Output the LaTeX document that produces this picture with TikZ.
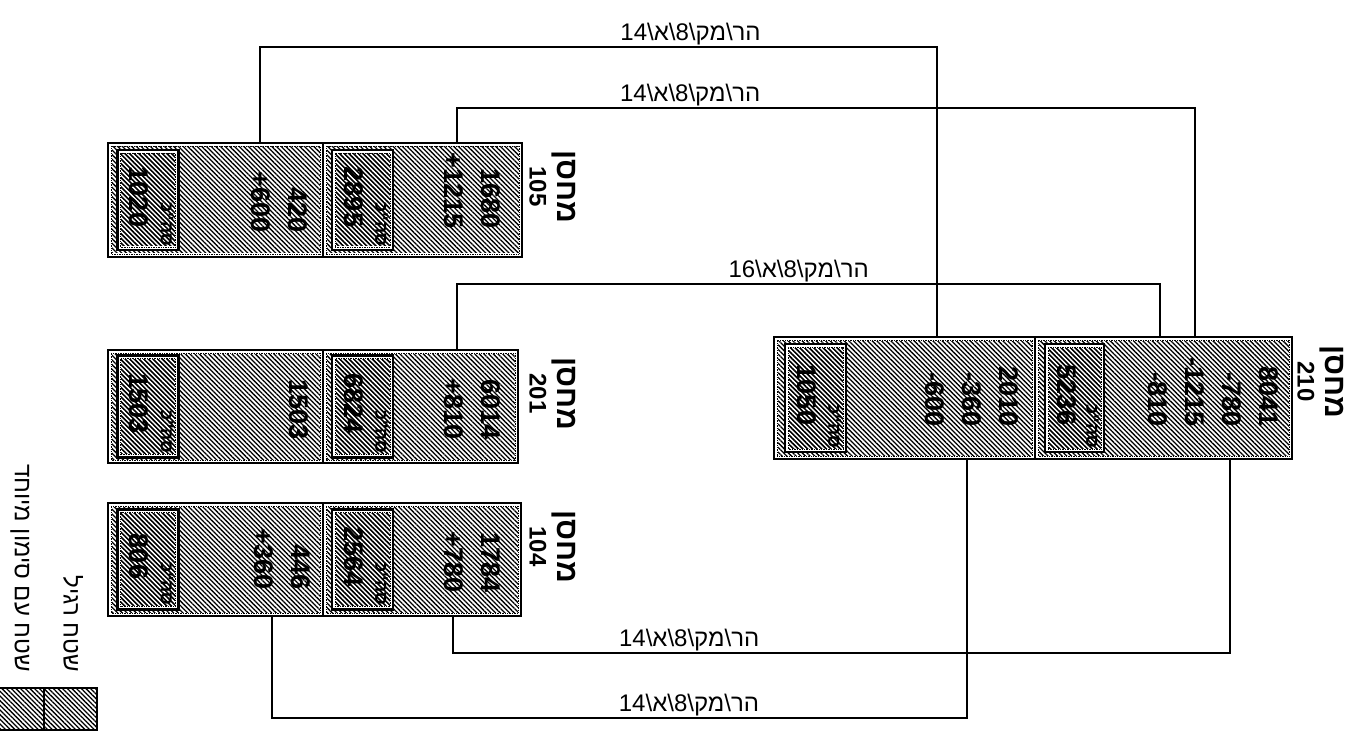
\documentclass[tikz,border=0pt]{standalone}
\usepackage{fontspec}
\setmainfont{Liberation Sans}
\newfontfamily\hebfont[Script=Hebrew]{Liberation Sans}
\TeXXeTstate=1
\usetikzlibrary{positioning,patterns.meta}
\newcommand{\heb}[1]{{\hebfont\beginR #1\endR}}
\newcommand{\dt}{\heb{הר\textbackslash מק\textbackslash 8\textbackslash א\textbackslash 14}}

\begin{document}
\begin{tikzpicture}[x=1pt, y=-1pt,
  hatch/.style={pattern={Lines[angle=-45,distance=3.3pt,line width=1.3pt]}},
  rim/.style={path picture={
    \draw[white, line width=7pt] (path picture bounding box.south west) rectangle (path picture bounding box.north east);
    \draw[densely dotted, line width=0.7pt] ([xshift=3pt,yshift=3pt]path picture bounding box.south west) rectangle ([xshift=-3pt,yshift=-3pt]path picture bounding box.north east);}},
  half/.style={draw, line width=2.6pt, outer sep=0pt, inner sep=0pt, minimum height=#1, hatch, rim},
  totbox/.style={draw, line width=2.2pt, outer sep=0pt, inner sep=0pt, minimum width=61pt, minimum height=#1, hatch, rim},
  legbox/.style={draw, line width=2pt, outer sep=0pt, inner sep=0pt, minimum height=42pt, hatch},
  nums/.style={rotate=-90, anchor=north east, align=right, inner sep=0pt, font=\bfseries\fontsize{27}{37}\selectfont},
  totnum/.style={rotate=-90, inner sep=0pt, font=\bfseries\fontsize{27}{37}\selectfont},
  totlbl/.style={rotate=-90, anchor=north east, inner sep=0pt, font=\bfseries\fontsize{18}{18}\selectfont},
  whlabel/.style={rotate=-90, anchor=north west, align=center, inner sep=0pt, font=\bfseries\fontsize{30}{28}\selectfont},
  wire/.style={line width=1.6pt},
  lbl/.style={above=1pt, inner sep=0pt, font=\fontsize{24}{24}\selectfont},
  legtxt/.style={rotate=-90, anchor=east, inner sep=0pt, font=\fontsize{24}{24}\selectfont}]
  \useasboundingbox (0,0) rectangle (1366,738);

  % warehouse 105
  \node[half=114pt, minimum width=215pt] (m105a) at (215.5,200) {};
  \node[half=114pt, minimum width=199pt, right=0pt of m105a] (m105b) {};
  \node[totbox=100pt, right=9.5pt of m105a.west] (t105a) {};
  \node[totbox=100pt, right=9pt of m105b.west] (t105b) {};
  \node[nums] (n105a) at ([xshift=-15pt,yshift=24pt]m105a.south east) {420\\+600};
  \node[nums] (n105b) at ([xshift=-21pt,yshift=28pt]m105b.south east) {1680\\+1215};
  \node[totnum] (s105a) at ([xshift=-9pt,yshift=3pt]t105a.center) {1020};
  \node[totnum] (s105b) at ([xshift=-9pt,yshift=3pt]t105b.center) {2895};
  \node[totlbl] (k105a) at ([xshift=-5pt,yshift=4pt]t105a.south east) {\heb{סה"כ}};
  \node[totlbl] (k105b) at ([xshift=-5pt,yshift=4pt]t105b.south east) {\heb{סה"כ}};
  \node[whlabel] (l105) at ([xshift=54pt,yshift=-7pt]m105b.north east) {\heb{מחסן}\\{\fontsize{24}{28}\selectfont 105}};

  % warehouse 201
  \node[half=113pt, minimum width=215pt] (m201a) at (215.5,406.5) {};
  \node[half=113pt, minimum width=195pt, right=0pt of m201a] (m201b) {};
  \node[totbox=102pt, right=9.5pt of m201a.west] (t201a) {};
  \node[totbox=102pt, right=9pt of m201b.west] (t201b) {};
  \node[nums] (n201a) at ([xshift=-14pt,yshift=23pt]m201a.south east) {1503};
  \node[nums] (n201b) at ([xshift=-17pt,yshift=23pt]m201b.south east) {6014\\+810};
  \node[totnum] (s201a) at ([xshift=-9pt,yshift=3pt]t201a.center) {1503};
  \node[totnum] (s201b) at ([xshift=-9pt,yshift=3pt]t201b.center) {6824};
  \node[totlbl] (k201a) at ([xshift=-5pt,yshift=4pt]t201a.south east) {\heb{סה"כ}};
  \node[totlbl] (k201b) at ([xshift=-5pt,yshift=4pt]t201b.south east) {\heb{סה"כ}};
  \node[whlabel] (l201) at ([xshift=58pt,yshift=-7pt]m201b.north east) {\heb{מחסן}\\{\fontsize{24}{28}\selectfont 201}};

  % warehouse 104
  \node[half=113pt, minimum width=215pt] (m104a) at (215.5,559.5) {};
  \node[half=113pt, minimum width=198pt, right=0pt of m104a] (m104b) {};
  \node[totbox=100pt, right=9.5pt of m104a.west] (t104a) {};
  \node[totbox=100pt, right=9pt of m104b.west] (t104b) {};
  \node[nums] (n104a) at ([xshift=-12pt,yshift=26pt]m104a.south east) {446\\+360};
  \node[nums] (n104b) at ([xshift=-20pt,yshift=23pt]m104b.south east) {1784\\+780};
  \node[totnum] (s104a) at ([xshift=-9pt,yshift=3pt]t104a.center) {806};
  \node[totnum] (s104b) at ([xshift=-9pt,yshift=3pt]t104b.center) {2564};
  \node[totlbl] (k104a) at ([xshift=-5pt,yshift=4pt]t104a.south east) {\heb{סה"כ}};
  \node[totlbl] (k104b) at ([xshift=-5pt,yshift=4pt]t104b.south east) {\heb{סה"כ}};
  \node[whlabel] (l104) at ([xshift=55pt,yshift=-7pt]m104b.north east) {\heb{מחסן}\\{\fontsize{24}{28}\selectfont 104}};

  % warehouse 210
  \node[half=122pt, minimum width=261pt] (m210a) at (904.5,398) {};
  \node[half=122pt, minimum width=257pt, right=0pt of m210a] (m210b) {};
  \node[totbox=108pt, right=11pt of m210a.west] (t210a) {};
  \node[totbox=108pt, minimum width=59pt, right=10pt of m210b.west] (t210b) {};
  \node[nums] (n210a) at ([xshift=-16pt,yshift=32pt]m210a.south east) {2010\\-360\\-600};
  \node[nums] (n210b) at ([xshift=-13pt,yshift=32pt]m210b.south east) {8041\\-780\\-1215\\-810};
  \node[totnum] (s210a) at ([xshift=-9pt,yshift=3pt]t210a.center) {1050};
  \node[totnum] (s210b) at ([xshift=-8pt,yshift=3pt]t210b.center) {5236};
  \node[totlbl] (k210a) at ([xshift=-5pt,yshift=4pt]t210a.south east) {\heb{סה"כ}};
  \node[totlbl] (k210b) at ([xshift=-5pt,yshift=4pt]t210b.south east) {\heb{סה"כ}};
  \node[whlabel] (l210) at ([xshift=52pt,yshift=-8pt]m210b.north east) {\heb{מחסן}\\{\fontsize{24}{28}\selectfont 210}};

  % transfers
  \draw[wire] ([xshift=44.5pt]m105a.north) -- ++(0,-96) -| node[lbl, pos=0.318] (d1) {\dt} ([xshift=32.5pt]m210a.north);
  \draw[wire] ([xshift=34.5pt]m105b.north) -- ++(0,-35) -| node[lbl, pos=0.158] (d2) {\dt} ([xshift=31.5pt]m210b.north);
  \draw[wire] ([xshift=36.5pt]m201b.north) -- ++(0,-66) -| node[lbl, pos=0.243] (d3) {\heb{הר\textbackslash מק\textbackslash 8\textbackslash א\textbackslash 16}} ([xshift=-3.5pt]m210b.north);
  \draw[wire] ([xshift=31pt]m104b.south) -- ++(0,37) -| node[lbl, pos=0.152] (d4) {\dt} ([xshift=66.5pt]m210b.south);
  \draw[wire] ([xshift=56.5pt]m104a.south) -- ++(0,102) -| node[lbl, pos=0.30] (d5) {\dt} ([xshift=62.5pt]m210a.south);

  % legend
  \node[legbox, minimum width=54pt] (lg1) at (17,709) {};
  \node[legbox, minimum width=53pt, right=0pt of lg1] (lg2) {};
  \node[legtxt] (g1) at (20,672) {\heb{שטח עם סימון מיוחד}};
  \node[legtxt] (g2) at (73,672) {\heb{שטח רגיל}};
\end{tikzpicture}
\end{document}
